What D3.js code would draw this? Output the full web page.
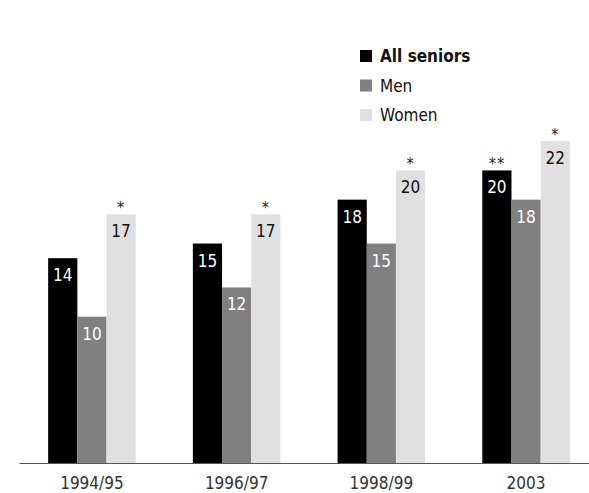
<!DOCTYPE html>
<html>
<head>
<meta charset="utf-8">
<script src="https://cdn.jsdelivr.net/npm/d3@7"></script>
<style>
	body { margin: 0; background: #fff; }
	svg { display: block; font-family: "DejaVu Sans Condensed", "DejaVu Sans", sans-serif; font-stretch: condensed; }
</style>
</head>
<body>
<div id="chart"></div>
<script>
const categories = [ '1994/95', '1996/97', '1998/99', '2003' ];
const seriesNames = [ 'All seniors', 'Men', 'Women' ];
const allSeniors = [ 14, 15, 18, 20 ];
const men = [ 10, 12, 15, 18 ];
const women = [ 17, 17, 20, 22 ];
// significance markers shown above bars
const allSeniorsMarks = [ '', '', '', '**' ];
const menMarks = [ '', '', '', '' ];
const womenMarks = [ '*', '*', '*', '*' ];

const width = 589;
const height = 493;
const baseline = 463;

const series = [
	{ name: seriesNames[ 0 ], values: allSeniors, marks: allSeniorsMarks, fill: '#000000', text: '#ffffff' },
	{ name: seriesNames[ 1 ], values: men, marks: menMarks, fill: '#808080', text: '#ffffff' },
	{ name: seriesNames[ 2 ], values: women, marks: womenMarks, fill: '#e0e0e0', text: '#111111' },
];

const svg = d3.select( '#chart' )
	.append( 'svg' )
	.attr( 'width', width )
	.attr( 'height', height );

const x0 = d3.scaleBand()
	.domain( categories )
	.range( [ 19.5, 598.5 ] )
	.paddingInner( 0.395 )
	.paddingOuter( 0.198 );

const x1 = d3.scaleBand()
	.domain( seriesNames )
	.range( [ 0, x0.bandwidth() ] );

const y = d3.scaleLinear()
	.domain( [ 0, 25 ] )
	.range( [ baseline, baseline - 25 * 14.63 ] );

// flatten to one record per bar
const bars = [];
categories.forEach( ( cat, i ) => {
	series.forEach( ( s ) => {
		bars.push( { cat, name: s.name, value: s.values[ i ], mark: s.marks[ i ], fill: s.fill, text: s.text } );
	} );
} );

const groups = svg.selectAll( 'g.bar' )
	.data( bars )
	.enter()
	.append( 'g' )
	.attr( 'class', 'bar' )
	.attr( 'transform', ( d ) => `translate(${ x0( d.cat ) + x1( d.name ) },0)` );

groups.append( 'rect' )
	.attr( 'x', 0 )
	.attr( 'y', ( d ) => y( d.value ) )
	.attr( 'width', x1.bandwidth() )
	.attr( 'height', ( d ) => y( 0 ) - y( d.value ) )
	.attr( 'fill', ( d ) => d.fill );

groups.append( 'text' )
	.attr( 'x', x1.bandwidth() / 2 )
	.attr( 'y', ( d ) => y( d.value ) + 23 )
	.attr( 'text-anchor', 'middle' )
	.style( 'font-size', '17px' )
	.style( 'fill', ( d ) => d.text )
	.text( ( d ) => d.value );

groups.filter( ( d ) => d.mark !== '' )
	.append( 'text' )
	.attr( 'x', x1.bandwidth() / 2 )
	.attr( 'y', ( d ) => y( d.value ) - 1 )
	.attr( 'text-anchor', 'middle' )
	.style( 'font-size', '16px' )
	.style( 'fill', '#222' )
	.style( 'letter-spacing', '1px' )
	.text( ( d ) => d.mark );

// x axis
const xAxis = svg.append( 'g' )
	.attr( 'transform', `translate(0,${ baseline })` )
	.call( d3.axisBottom( x0 ).tickSize( 0 ).tickPadding( 14 ) );

xAxis.select( '.domain' )
	.attr( 'd', `M19.5,0.5H${ width }` )
	.attr( 'stroke', '#555' )
	.attr( 'stroke-width', 1.2 );

xAxis.selectAll( 'text' )
	.style( 'font-family', '"DejaVu Sans Condensed", "DejaVu Sans", sans-serif' )
	.style( 'font-size', '17px' )
	.style( 'fill', '#333' );

// legend
const legend = svg.append( 'g' )
	.attr( 'transform', 'translate(360,50)' );

const item = legend.selectAll( 'g' )
	.data( series )
	.enter()
	.append( 'g' )
	.attr( 'transform', ( d, i ) => `translate(0,${ i * 29.5 })` );

item.append( 'rect' )
	.attr( 'width', 12 )
	.attr( 'height', 12 )
	.attr( 'fill', ( d ) => d.fill );

item.append( 'text' )
	.attr( 'x', 20 )
	.attr( 'y', 12 )
	.style( 'font-size', '17px' )
	.style( 'font-weight', ( d, i ) => ( i === 0 ? 'bold' : 'normal' ) )
	.style( 'fill', '#111' )
	.text( ( d ) => d.name );
</script>
</body>
</html>
